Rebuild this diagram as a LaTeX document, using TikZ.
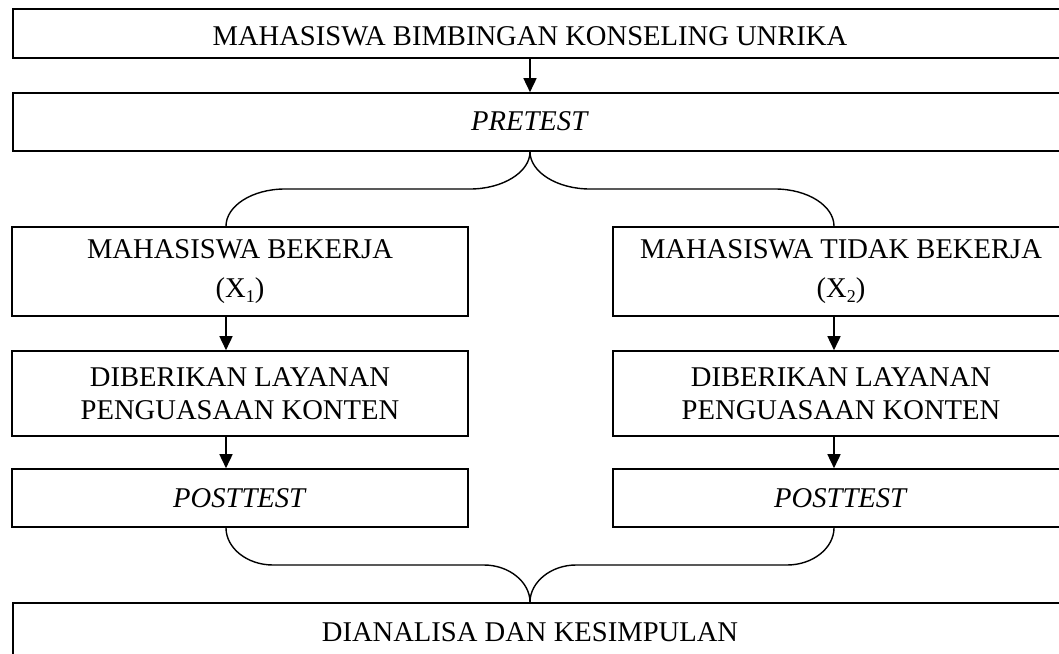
\documentclass[tikz,border=0pt]{standalone}
\usepackage{fontspec}
\setmainfont{Liberation Serif}
\usetikzlibrary{arrows.meta}
\newcommand{\sbx}[1]{\raisebox{-0.18em}{\fontsize{18}{18}\selectfont #1}}
\begin{document}
\begin{tikzpicture}[x=1pt,y=-1pt,
  txt/.style={font=\fontsize{28.6}{33}\selectfont, align=center, inner sep=0pt},
  box/.style={draw, line width=1.6pt, inner sep=0pt, txt},
  side/.style={box, minimum width=456pt},
  wide/.style={box, minimum width=1058pt, anchor=west},
  arr/.style={line width=1.6pt, -{Triangle[length=14pt,width=13pt]}},
  brace/.style={line width=1.4pt}]
\useasboundingbox (0,0) rectangle (1059,653);
\clip (0,0) rectangle (1059,653);
\coordinate (ax) at (226,0);
\coordinate (bx) at (834,0);
\coordinate (cx) at (530,0);
% wide boxes
\node[wide, minimum height=49pt] (top) at (12,33.5) {};
\node[txt] (toptxt) at (530,36) {MAHASISWA BIMBINGAN KONSELING UNRIKA};
\node[wide, minimum height=58pt] (pre) at (12,122) {};
\node[txt] (pretxt) at (530,121) {\textit{PRETEST}};
\node[wide, minimum height=58pt] (fin) at (12,632) {};
\node[txt] (fintxt) at (530,632) {DIANALISA DAN KESIMPULAN};
% left column
\node[side, minimum height=89pt] (l1) at (240,271.5) {MAHASISWA BEKERJA\\[6pt](X\sbx{1})};
\node[side, minimum height=85pt] (l2) at (240,393.5) {DIBERIKAN LAYANAN\\PENGUASAAN KONTEN};
\node[side, minimum height=58pt] (l3) at (240,498) {\textit{POSTTEST}};
% right column
\node[side, minimum height=89pt] (r1) at (841,271.5) {MAHASISWA TIDAK BEKERJA\\[6pt](X\sbx{2})};
\node[side, minimum height=85pt] (r2) at (841,393.5) {DIBERIKAN LAYANAN\\PENGUASAAN KONTEN};
\node[side, minimum height=58pt] (r3) at (841,498) {\textit{POSTTEST}};
% arrows
\draw[arr] (cx |- top.south) -- (cx |- pre.north);
\draw[arr] (ax |- l1.south) -- (ax |- l2.north);
\draw[arr] (ax |- l2.south) -- (ax |- l3.north);
\draw[arr] (bx |- r1.south) -- (bx |- r2.north);
\draw[arr] (bx |- r2.south) -- (bx |- r3.north);
% top brace
\draw[brace] (cx |- pre.south) .. controls (530,172) and (503,189) .. (470,189)
  -- (285,189) .. controls (252,189) and (226,206) .. (ax |- l1.north);
\draw[brace] (cx |- pre.south) .. controls (530,172) and (557,189) .. (590,189)
  -- (775,189) .. controls (808,189) and (834,206) .. (bx |- r1.north);
% bottom brace
\draw[brace] (ax |- l3.south) .. controls (226,548) and (247,565) .. (273,565)
  -- (484,565) .. controls (509,565) and (530,582) .. (cx |- fin.north);
\draw[brace] (bx |- r3.south) .. controls (834,548) and (813,565) .. (787,565)
  -- (576,565) .. controls (551,565) and (530,582) .. (cx |- fin.north);
\end{tikzpicture}
\end{document}
